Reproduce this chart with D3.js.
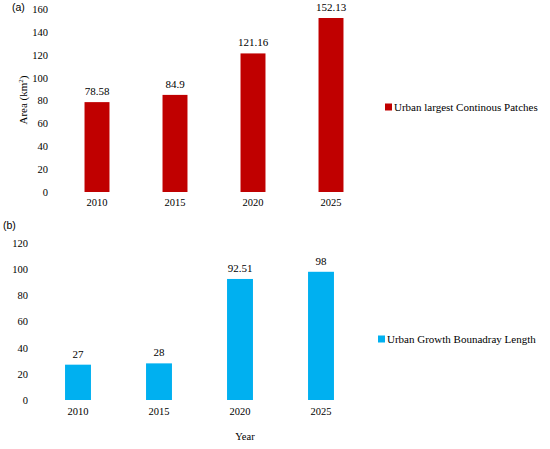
<!DOCTYPE html>
<html>
<head>
<meta charset="utf-8">
<script src="https://cdn.jsdelivr.net/npm/d3@7"></script>
<style>
  body { margin: 0; background: #fff; }
  text { font-family: "Liberation Serif", "Times New Roman", serif; fill: #000; }
</style>
</head>
<body>
<div id="chart"></div>
<script>
// data
var years = ["2010", "2015", "2020", "2025"];
var patchValues = [78.58, 84.9, 121.16, 152.13];
var patchLabels = ["78.58", "84.9", "121.16", "152.13"];
var boundaryValues = [27, 28, 92.51, 98];
var boundaryLabels = ["27", "28", "92.51", "98"];
var topTicks = [0, 20, 40, 60, 80, 100, 120, 140, 160];
var bottomTicks = [0, 20, 40, 60, 80, 100, 120];

var svg = d3.select("#chart")
    .append("svg")
    .attr("width", 550)
    .attr("height", 449);

// one panel: bars + value labels + axes + legend
function drawPanel(opt) {
    var x = d3.scaleBand()
        .domain(years)
        .range(opt.xRange)
        .paddingInner(0.68)
        .paddingOuter(0.34);

    var y = d3.scaleLinear()
        .domain(opt.yDomain)
        .range(opt.yRange);

    var g = svg.append("g");

    // bars
    g.selectAll("rect")
        .data(opt.values)
        .enter()
        .append("rect")
        .attr("x", (d, i) => x(years[i]))
        .attr("y", d => y(d))
        .attr("width", x.bandwidth())
        .attr("height", d => y(0) - y(d))
        .style("fill", opt.color);

    // labels on top of bars
    g.selectAll(".val")
        .data(opt.values)
        .enter()
        .append("text")
        .attr("class", "val")
        .attr("x", (d, i) => x(years[i]) + x.bandwidth() / 2)
        .attr("y", d => y(d) - 7)
        .style("font-size", "11px")
        .style("text-anchor", "middle")
        .text((d, i) => opt.labels[i]);

    // y axis, no line / ticks
    var ya = g.append("g")
        .attr("transform", "translate(" + opt.yAxisX + ",0)")
        .call(d3.axisLeft(y).tickValues(opt.ticks).tickSize(0).tickPadding(0));
    ya.select(".domain").remove();
    ya.selectAll("text")
        .style("font-family", "Liberation Serif")
        .style("font-size", "10.5px");

    // x axis
    var xa = g.append("g")
        .attr("transform", "translate(0," + y(0) + ")")
        .call(d3.axisBottom(x).tickSize(0).tickPadding(opt.xPad));
    xa.select(".domain").remove();
    xa.selectAll("text")
        .style("font-family", "Liberation Serif")
        .style("font-size", "10.5px");

    // legend
    g.append("rect")
        .attr("x", opt.legend[0])
        .attr("y", opt.legend[1] - 3.5)
        .attr("width", 7)
        .attr("height", 7)
        .style("fill", opt.color);
    g.append("text")
        .attr("x", opt.legend[0] + 9)
        .attr("y", opt.legend[1] + 4)
        .style("font-size", "11px")
        .text(opt.name);

    // panel letter
    g.append("text")
        .attr("x", opt.letter[0])
        .attr("y", opt.letter[1])
        .style("font-family", "Liberation Sans")
        .style("font-size", "10.5px")
        .text(opt.letterText);
}

drawPanel({
    values: patchValues,
    labels: patchLabels,
    xRange: [58, 370],
    yDomain: [0, 160],
    yRange: [192, 9],
    ticks: topTicks,
    yAxisX: 48,
    xPad: 7,
    color: "#C00000",
    name: "Urban largest Continous Patches",
    legend: [385, 107],
    letter: [12, 11],
    letterText: "(a)"
});

drawPanel({
    values: boundaryValues,
    labels: boundaryLabels,
    xRange: [37.5, 361.5],
    yDomain: [0, 120],
    yRange: [400, 243],
    ticks: bottomTicks,
    yAxisX: 28,
    xPad: 8,
    color: "#00B0F0",
    name: "Urban Growth Bounadray Length",
    legend: [378, 339],
    letter: [3, 229],
    letterText: "(b)"
});

// axis titles
svg.append("text")
    .attr("transform", "translate(27,100) rotate(-90)")
    .style("text-anchor", "middle")
    .style("font-size", "11px")
    .html("Area (km<tspan dy='-4' font-size='7px'>2</tspan><tspan dy='4'>)</tspan>");

svg.append("text")
    .attr("x", 245)
    .attr("y", 440)
    .style("text-anchor", "middle")
    .style("font-size", "10.5px")
    .text("Year");
</script>
</body>
</html>
